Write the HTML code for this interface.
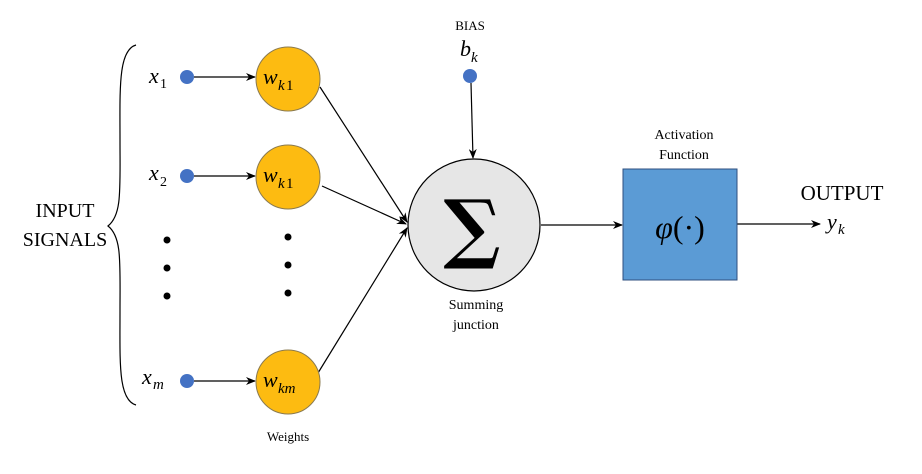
<!DOCTYPE html>
<html><head><meta charset="utf-8"><style>html,body{margin:0;padding:0;background:#fff;}</style></head>
<body>
<svg width="922" height="469" viewBox="0 0 922 469" xmlns="http://www.w3.org/2000/svg" font-family="Liberation Serif, serif">
<defs><marker id="a" markerWidth="10" markerHeight="8" refX="9" refY="4" orient="auto" markerUnits="userSpaceOnUse"><path d="M0,0 L10,4 L0,8 L3,4 z" fill="#000"/></marker></defs>
<path d="M136,45 C118,50 120,90 120,140 C120,190 122,215 108,226 C122,237 120,262 120,312 C120,362 118,400 136,405" fill="none" stroke="#000" stroke-width="1.2"/>
<text x="65" y="217" font-size="20" text-anchor="middle">INPUT</text>
<text x="65" y="246" font-size="20" text-anchor="middle">SIGNALS</text>
<g font-style="italic" font-size="22">
<text x="149" y="83">x</text><text x="160" y="88" font-size="14" font-style="normal">1</text>
<text x="149" y="180">x</text><text x="160" y="186" font-size="14" font-style="normal">2</text>
<text x="142" y="384">x</text><text x="153" y="389" font-size="15">m</text>
</g>
<g fill="#4472c4">
<circle cx="187" cy="77" r="7"/><circle cx="187" cy="176" r="7"/><circle cx="187" cy="381" r="7"/>
<circle cx="470" cy="76" r="7"/>
</g>
<g stroke="#000" stroke-width="1.2" marker-end="url(#a)">
<line x1="194" y1="77" x2="255" y2="77"/>
<line x1="194" y1="176" x2="255" y2="176"/>
<line x1="194" y1="381" x2="255" y2="381"/>
<line x1="320" y1="87" x2="407" y2="222"/>
<line x1="322" y1="186" x2="406" y2="224"/>
<line x1="318" y1="373" x2="407" y2="228"/>
<line x1="471" y1="83" x2="473" y2="158"/>
<line x1="541" y1="225" x2="622" y2="225"/>
<line x1="737" y1="224" x2="820" y2="224"/>
</g>
<g fill="#fdbb11" stroke="#8a7a50" stroke-width="1">
<circle cx="288" cy="79" r="32"/><circle cx="288" cy="177" r="32"/><circle cx="288" cy="382" r="32"/>
</g>
<g font-style="italic" font-size="22">
<text x="263" y="84">w</text><text x="278" y="90" font-size="15">k</text><text x="286" y="90" font-size="15" font-style="normal">1</text>
<text x="263" y="182">w</text><text x="278" y="188" font-size="15">k</text><text x="286" y="188" font-size="15" font-style="normal">1</text>
<text x="263" y="387">w</text><text x="278" y="393" font-size="15">km</text>
</g>
<g fill="#000">
<circle cx="167" cy="240" r="3.5"/><circle cx="167" cy="268" r="3.5"/><circle cx="167" cy="296" r="3.5"/>
<circle cx="288" cy="237" r="3.5"/><circle cx="288" cy="265" r="3.5"/><circle cx="288" cy="293" r="3.5"/>
</g>
<text x="288" y="441" font-size="13" text-anchor="middle">Weights</text>
<text x="470" y="30" font-size="13" text-anchor="middle">BIAS</text>
<text x="460" y="56" font-size="22" font-style="italic">b</text><text x="471" y="62" font-size="15" font-style="italic">k</text>
<circle cx="474" cy="225" r="66" fill="#e6e6e6" stroke="#000" stroke-width="1.2"/>
<text x="472" y="254" font-size="76" font-weight="bold" text-anchor="middle" font-family="DejaVu Serif, serif">∑</text>
<text x="476" y="309" font-size="14" text-anchor="middle">Summing</text>
<text x="476" y="329" font-size="14" text-anchor="middle">junction</text>
<rect x="623" y="169" width="114" height="111" fill="#5b9bd5" stroke="#2f4f7f" stroke-width="1"/>
<text x="684" y="139" font-size="14" text-anchor="middle">Activation</text>
<text x="684" y="159" font-size="14" text-anchor="middle">Function</text>
<text x="680" y="238" font-size="32" text-anchor="middle"><tspan font-style="italic">φ</tspan>(·)</text>
<text x="842" y="200" font-size="21" text-anchor="middle">OUTPUT</text>
<text x="827" y="229" font-size="22" font-style="italic">y</text><text x="838" y="234" font-size="15" font-style="italic">k</text>
</svg>
</body></html>
